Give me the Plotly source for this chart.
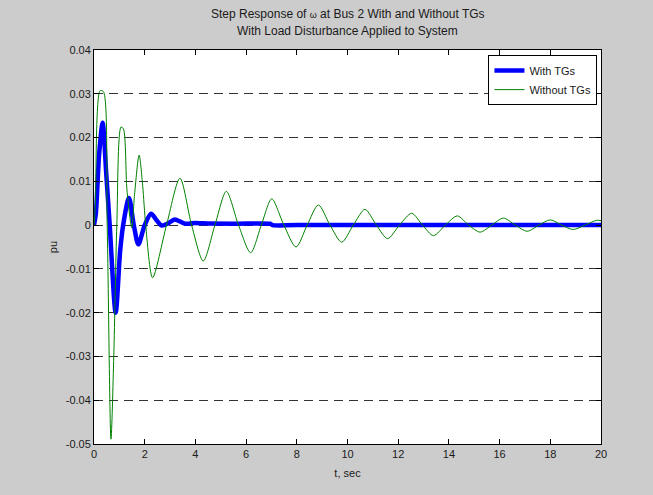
import plotly.graph_objects as go

# Data
t_with = [0, 0.07, 0.2, 0.34, 0.48, 0.62, 0.855, 1.03, 1.15, 1.38, 1.57, 1.75, 2.0, 2.25, 2.47, 2.67, 2.95, 3.18,
          3.6, 4.0, 4.3, 5.5, 6.95, 7.05, 8.0, 20]
v_with = [0, 0.0024, 0.016, 0.0234, 0.012, 0, -0.0200, -0.006, 0, 0.0062, 0, -0.0044, 0, 0.0026, 0.0011, -0.0001,
          0.0005, 0.0013, 0.0003, 0.0005, 0.0004, 0.0003, 0.0003, 0.0, 0.0, 0.0]

t_without = [0, 0.05, 0.24, 0.37, 0.52, 0.67, 0.78, 0.90, 1.065, 1.16, 1.30, 1.49, 1.60, 1.78, 1.92, 2.04, 2.31,
             2.86, 3.39, 3.85, 4.31, 4.77, 5.22, 5.70, 6.18, 6.60, 7.01, 7.49, 7.97, 8.41, 8.85, 9.31, 9.77,
             10.23, 10.69, 11.14, 11.58, 12.05, 12.53, 12.96, 13.39, 13.86, 14.33, 14.78, 15.23, 15.69, 16.15,
             16.62, 17.09, 17.55, 18.0, 18.45, 18.9, 19.37, 19.83, 20.0]
v_without = [0, 0.004, 0.0307, 0.0305, 0, -0.0489, -0.03, 0, 0.0224, 0.0220, 0.008, -0.0006, 0.007, 0.0160, 0.009, 0, -0.0120,
             0, 0.0107, 0, -0.0082, 0, 0.0077, 0, -0.0063, 0, 0.0060, 0, -0.0050, 0, 0.0046, 0, -0.0039,
             0, 0.0036, 0, -0.0031, 0, 0.0027, 0, -0.0024, 0, 0.0021, 0, -0.0016, 0, 0.0016,
             0, -0.0014, 0, 0.0012, 0, -0.0010, 0, 0.0011, 0.0010]

x_ticks = [0, 2, 4, 6, 8, 10, 12, 14, 16, 18, 20]
y_ticks = [0.04, 0.03, 0.02, 0.01, 0, -0.01, -0.02, -0.03, -0.04, -0.05]
y_tick_text = ["0.04", "0.03", "0.02", "0.01", "0", "-0.01", "-0.02", "-0.03", "-0.04", "-0.05"]

title_lines = ["Step Response of <span style='font-size:9px'>ω</span> at Bus 2 With and Without TGs",
               "With Load Disturbance Applied to System"]

FONT = "Liberation Sans, Arial, sans-serif"

fig = go.Figure()
fig.add_trace(go.Scatter(x=t_with, y=v_with, mode="lines", name="With TGs",
                         line=dict(color="#0000ff", width=4.5, shape="spline", smoothing=0.8)))
fig.add_trace(go.Scatter(x=t_without, y=v_without, mode="lines", name="Without TGs",
                         line=dict(color="#008000", width=1, shape="spline", smoothing=0.8)))

# plot area: top 50px, bottom 444px -> height 394
PLOT_TOP, PLOT_H = 50, 394
for i, line in enumerate(title_lines):
    py = 14 + 17 * i
    fig.add_annotation(text=line, xref="paper", x=0.5, xanchor="center",
                       yref="paper", y=(PLOT_TOP + PLOT_H - py) / PLOT_H, yanchor="middle",
                       showarrow=False, font=dict(family=FONT, size=12, color="#1a1a1a"))

fig.update_layout(
    width=653, height=495,
    margin=dict(l=94, r=52, t=PLOT_TOP, b=51),
    paper_bgcolor="#cccccc",
    plot_bgcolor="#ffffff",
    font=dict(family=FONT, size=11, color="#1a1a1a"),
    showlegend=True,
    legend=dict(
        x=0.993, y=0.987, xanchor="right", yanchor="top",
        bgcolor="#ffffff", bordercolor="#000000", borderwidth=1,
        font=dict(family=FONT, size=11, color="#1a1a1a"),
        tracegroupgap=2,
    ),
)

fig.update_xaxes(
    range=[0, 20], tickvals=x_ticks, ticks="inside", ticklen=5, tickcolor="#000000",
    showline=True, linecolor="#000000", linewidth=1, mirror="ticks",
    showgrid=False, zeroline=False,
    title=dict(text="t, sec", font=dict(family=FONT, size=11), standoff=10),
)
fig.update_yaxes(
    range=[-0.05, 0.04], tickvals=y_ticks, ticktext=y_tick_text, ticks="inside", ticklen=5, tickcolor="#000000",
    showline=True, linecolor="#000000", linewidth=1, mirror="ticks",
    showgrid=True, gridcolor="#333333", gridwidth=1, griddash="9px,6px", zeroline=False,
    title=dict(text="pu", font=dict(family=FONT, size=11), standoff=5),
)

fig.write_html("out.html")
